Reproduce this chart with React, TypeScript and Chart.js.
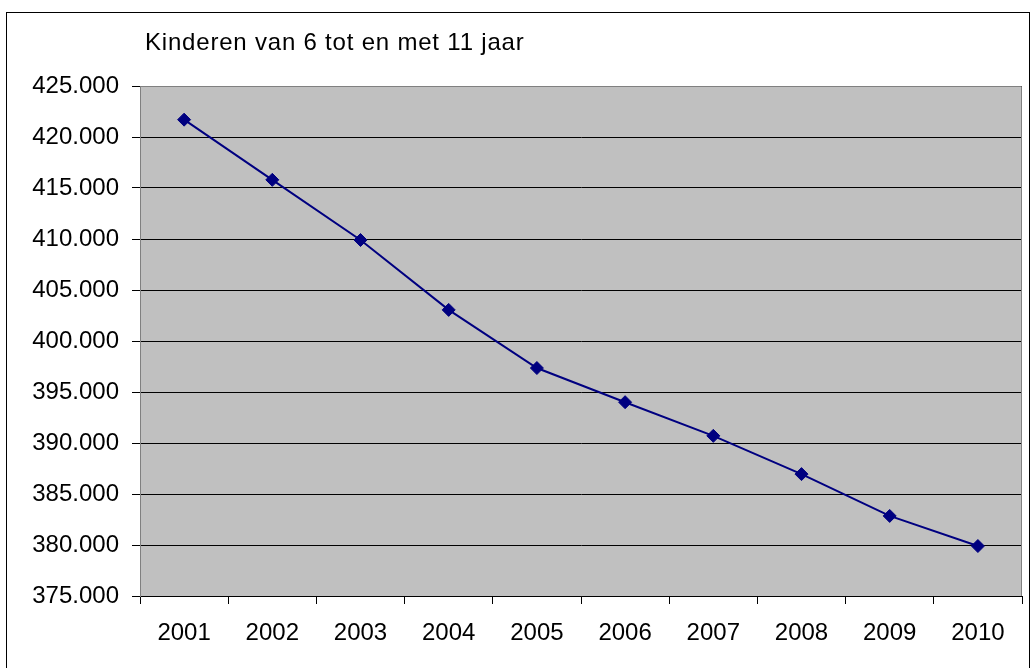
import React, { useEffect, useRef } from "react";
import { Chart, registerables } from "chart.js";

Chart.register(...registerables);

const titleText = "Kinderen van 6 tot en met 11 jaar";
const years = ["2001", "2002", "2003", "2004", "2005", "2006", "2007", "2008", "2009", "2010"];
const kinderen = [421700, 415800, 409900, 403050, 397350, 394000, 390700, 386950, 382850, 379900];
const yMin = 375000;
const yMax = 425000;
const yStep = 5000;

const FONT = '"Liberation Sans", Arial, sans-serif';

const fmt = (v: number) => {
  const s = Math.round(v).toString();
  return s.replace(/\B(?=(\d{3})+(?!\d))/g, ".");
};

const framePlugin = {
  id: "frame",
  beforeDraw(chart: any) {
    const { ctx, chartArea } = chart;
    ctx.save();
    ctx.fillStyle = "#ffffff";
    ctx.fillRect(0, 0, chart.width, chart.height);
    ctx.strokeStyle = "#000000";
    ctx.lineWidth = 1;
    ctx.strokeRect(6.5, 12.5, 1023, 700);
    ctx.fillStyle = "#C0C0C0";
    ctx.fillRect(chartArea.left, chartArea.top, chartArea.right - chartArea.left, chartArea.bottom - chartArea.top);
    ctx.fillStyle = "#000000";
    ctx.font = `24px ${FONT}`;
    try {
      (ctx as any).letterSpacing = "0.8px";
    } catch (e) {}
    ctx.textBaseline = "alphabetic";
    ctx.textAlign = "left";
    ctx.fillText(titleText, 145, 49.5);
    ctx.restore();
  },
  afterDatasetsDraw(chart: any) {
    const { ctx, chartArea } = chart;
    ctx.save();
    ctx.strokeStyle = "#808080";
    ctx.lineWidth = 1;
    ctx.beginPath();
    ctx.moveTo(chartArea.left + 0.5, chartArea.bottom);
    ctx.lineTo(chartArea.left + 0.5, chartArea.top + 0.5);
    ctx.lineTo(chartArea.right - 0.5, chartArea.top + 0.5);
    ctx.lineTo(chartArea.right - 0.5, chartArea.bottom);
    ctx.stroke();
    ctx.restore();
  },
};

export default function App() {
  const ref = useRef<HTMLCanvasElement>(null);
  useEffect(() => {
    document.body.style.margin = "0";
    const chart = new Chart(ref.current as HTMLCanvasElement, {
      type: "line",
      data: {
        labels: years,
        datasets: [
          {
            label: titleText,
            data: kinderen,
            borderColor: "#000080",
            backgroundColor: "#000080",
            borderWidth: 2,
            tension: 0,
            pointStyle: "rectRot",
            pointRadius: 6.5,
            pointBorderWidth: 1,
            pointBackgroundColor: "#000080",
            pointBorderColor: "#000080",
          },
        ],
      },
      options: {
        responsive: false,
        animation: false,
        layout: { padding: { top: 86, right: 9, left: 0, bottom: 0 } },
        plugins: { legend: { display: false }, tooltip: { enabled: false }, title: { display: false } },
        scales: {
          x: {
            type: "category",
            offset: true,
            grid: { offset: true, drawOnChartArea: false, color: "#000", tickLength: 8 },
            border: { color: "#000", width: 1 },
            ticks: { color: "#000", font: { family: FONT, size: 24 }, padding: 15, maxRotation: 0, autoSkip: false },
            afterFit: (s: any) => {
              s.height = 72;
            },
          },
          y: {
            min: yMin,
            max: yMax,
            grid: { color: "#000", lineWidth: 1, tickLength: 8 },
            border: { color: "#808080", width: 1 },
            ticks: {
              stepSize: yStep,
              color: "#000",
              font: { family: FONT, size: 24 },
              padding: 13,
              callback: (v: any) => fmt(Number(v)),
            },
            afterFit: (s: any) => {
              s.width = 140;
            },
          },
        },
      },
      plugins: [framePlugin],
    });
    return () => chart.destroy();
  }, []);
  return (
    <div style={{ position: "fixed", left: 0, top: 0, width: 1031, height: 668 }}>
      <canvas ref={ref} width={1031} height={668} style={{ display: "block" }} />
    </div>
  );
}
